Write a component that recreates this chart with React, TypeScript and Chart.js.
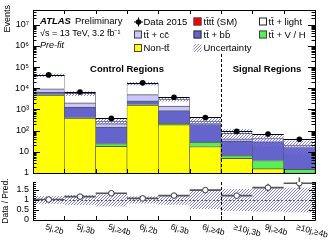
import React, { useEffect, useRef } from 'react';
import { Chart, registerables } from 'chart.js';
Chart.register(...registerables);

// ---------------- data ----------------
const categories = ['5j,2b', '5j,3b', '5j,≥4b', '6j,2b', '6j,3b', '6j,≥4b', '≥10j,3b', '9j,≥4b', '≥10j,≥4b'];
const nonTT = [4800, 390, 18, 1620, 192, 17.8, 4.9, 1.6, 0.6];
const ttVH = [150, 15, 6.5, 100, 30, 11, 1.7, 2.3, 0.9];
const ttbb = [1600, 855, 125, 860, 668, 163, 26, 25.4, 14.5];
const ttcc = [3000, 830, 64, 2460, 566, 38, 9, 3.3, 1.2];
const ttLight = [32450, 3670, 70, 11760, 1654, 52, 33.4, 10, 3.2];
const tttt = [0.2, 0.3, 0.4, 0.2, 0.3, 0.5, 0.6, 0.7, 0.8];
const dataCounts = [43000, 6739, 380, 18144, 3795, 421, 92, 70, 39];
const relUncertainty = [0.19, 0.25, 0.32, 0.18, 0.24, 0.45, 0.55, 0.58, 0.62];
const ratioErr = [0.005, 0.014, 0.07, 0.008, 0.02, 0.07, 0.13, 0.19, 0.29];
const logTickValues = [1, 10, 100, 1e3, 1e4, 1e5, 1e6, 1e7];
const logTickLabels = ['1', '10', '10²', '10³', '10⁴', '10⁵', '10⁶', '10⁷'];
const ratioTickValues = [0, 0.5, 1, 1.5];
const ratioTickLabels = ['0', '0.5', '1', '1.5'];
const legendLabels = ['Data 2015', 'tt\u0304tt\u0304 (SM)', 'tt\u0304 + light', 'tt\u0304 + cc\u0304', 'tt\u0304 + bb\u0304', 'tt\u0304 + V / H', 'Non-tt\u0304', 'Uncertainty'];

// ---------------- style ----------------
const FONT = '"Liberation Sans", Arial, Helvetica, sans-serif';
const fnt = (size: number, weight = 'normal', style = 'normal') => `${style} ${weight} ${size}px ${FONT}`;
const C_YELLOW = '#ffff00';
const C_GREEN = '#55f055';
const C_BB = '#6464cc';
const C_CC = '#c8c8ff';
const C_LIGHT = '#ffffff';
const C_TTTT = '#ff0000';
const C_HATCH = '#7474e4';
const C_EDGE = '#555555';

const pred = categories.map((_, i) => nonTT[i] + ttVH[i] + ttbb[i] + ttcc[i] + ttLight[i] + tttt[i]);
const ratio = dataCounts.map((d, i) => d / pred[i]);

function makeHatch(ctx: CanvasRenderingContext2D, color: string) {
  const c = document.createElement('canvas');
  c.width = 3; c.height = 3;
  const g = c.getContext('2d')!;
  g.strokeStyle = color; g.lineWidth = 0.9;
  g.beginPath();
  g.moveTo(0, 3); g.lineTo(3, 0);
  g.moveTo(-1, 1); g.lineTo(1, -1);
  g.moveTo(2, 4); g.lineTo(4, 2);
  g.stroke();
  return ctx.createPattern(c, 'repeat')!;
}

function halfBin(x: any) {
  return (x.getPixelForValue(1) - x.getPixelForValue(0)) / 2;
}

function fixAxis(s: any) {
  s.width = 33;
  s.paddingTop = 0;
  s.paddingBottom = 0;
  s.paddingLeft = 0;
  s.paddingRight = 0;
}

function makeMainPlugin(hatch: CanvasPattern) {
  return {
    id: 'mainDecor',
    afterDatasetsDraw(chart: any) {
      const { ctx, scales } = chart;
      const x = scales.x, y = scales.y;
      const half = halfBin(x);
      ctx.save();
      ctx.strokeStyle = '#000'; ctx.lineWidth = 1;
      dataCounts.forEach((v, i) => {
        const cx = x.getPixelForValue(i);
        const cy = Math.round(y.getPixelForValue(v)) + 0.5;
        ctx.beginPath(); ctx.moveTo(cx - half, cy); ctx.lineTo(cx + half, cy); ctx.stroke();
      });
      ctx.restore();
    },
    afterDraw(chart: any) {
      const { ctx, chartArea: a, scales } = chart;
      const x = scales.x, y = scales.y;
      const half = halfBin(x);
      ctx.save();
      ctx.strokeStyle = '#000'; ctx.lineWidth = 1;
      ctx.strokeRect(a.left + 0.5, a.top + 0.5, a.right - a.left, a.bottom - a.top);
      ctx.beginPath();
      for (let e = 0; e <= 7; e++) {
        for (let m = 1; m <= 9; m++) {
          const v = m * Math.pow(10, e);
          if (v > y.max) break;
          const py = Math.round(y.getPixelForValue(v)) + 0.5;
          const len = m === 1 ? 7 : 3.5;
          ctx.moveTo(a.left, py); ctx.lineTo(a.left + len, py);
          ctx.moveTo(a.right, py); ctx.lineTo(a.right - len, py);
        }
      }
      for (let i = 1; i < categories.length; i++) {
        const px = Math.round(x.getPixelForValue(i) - half) + 0.5;
        ctx.moveTo(px, a.bottom); ctx.lineTo(px, a.bottom - 4);
        ctx.moveTo(px, a.top); ctx.lineTo(px, a.top + 4);
      }
      ctx.stroke();
      // dashed separator
      const sx = Math.round((x.getPixelForValue(5) + x.getPixelForValue(6)) / 2) + 0.5;
      ctx.setLineDash([3, 2]);
      ctx.beginPath(); ctx.moveTo(sx, 54); ctx.lineTo(sx, a.bottom); ctx.stroke();
      ctx.setLineDash([]);

      // y title
      ctx.fillStyle = '#000';
      ctx.save();
      ctx.translate(8, a.top - 5);
      ctx.rotate(-Math.PI / 2);
      ctx.font = fnt(9);
      ctx.textAlign = 'right'; ctx.textBaseline = 'middle';
      ctx.fillText('Events', 0, 0);
      ctx.restore();

      // labels
      ctx.textAlign = 'left'; ctx.textBaseline = 'alphabetic';
      ctx.font = fnt(9.5, 'bold', 'italic');
      ctx.fillText('ATLAS', 40, 23.5);
      ctx.font = fnt(9.5);
      ctx.fillText('Preliminary', 75, 23.5);
      ctx.font = fnt(9);
      ctx.fillText('√s = 13 TeV, 3.2 fb⁻¹', 40, 35.5);
      ctx.font = fnt(9, 'normal', 'italic');
      ctx.fillText('Pre-fit', 40, 47.5);
      ctx.font = fnt(9.5, 'bold');
      ctx.textAlign = 'center';
      ctx.fillText('Control Regions', 127, 71.5);
      ctx.fillText('Signal Regions', 267, 71.5);

      // legend
      ctx.textAlign = 'left'; ctx.textBaseline = 'middle';
      ctx.font = fnt(9.5);
      const rows = [21.5, 34.5, 48];
      const boxCols = [134, 193.5, 259];
      const textCols = [143.5, 203.5, 268.5];
      const box = (col: number, row: number, fill: string | CanvasPattern, stroke: string | null) => {
        const bx = boxCols[col], by = rows[row] - 4;
        ctx.fillStyle = fill;
        ctx.fillRect(bx, by, 8, 8);
        if (stroke) { ctx.strokeStyle = stroke; ctx.lineWidth = 1; ctx.strokeRect(bx + 0.5, by + 0.5, 7, 7); }
      };
      // data marker
      ctx.strokeStyle = '#000'; ctx.lineWidth = 1;
      ctx.beginPath();
      ctx.moveTo(134, rows[0] + 0.5); ctx.lineTo(143, rows[0] + 0.5);
      ctx.moveTo(138.5, rows[0] - 4); ctx.lineTo(138.5, rows[0] + 5);
      ctx.stroke();
      ctx.fillStyle = '#000';
      ctx.beginPath(); ctx.arc(138.5, rows[0] + 0.5, 2.7, 0, Math.PI * 2); ctx.fill();
      box(1, 0, C_TTTT, '#444');
      box(2, 0, C_LIGHT, '#222');
      box(0, 1, C_CC, '#444');
      box(1, 1, C_BB, '#333');
      box(2, 1, C_GREEN, '#444');
      box(0, 2, C_YELLOW, '#444');
      box(1, 2, hatch, null);
      ctx.fillStyle = '#000';
      const tpos: [number, number][] = [[0, 0], [1, 0], [2, 0], [0, 1], [1, 1], [2, 1], [0, 2], [1, 2]];
      legendLabels.forEach((lab, k) => {
        const [c, r] = tpos[k];
        ctx.fillText(lab, textCols[c], rows[r] + 0.5);
      });
      ctx.restore();
    },
  };
}

function makeRatioPlugin() {
  return {
    id: 'ratioDecor',
    afterDatasetDraw(chart: any, args: any) {
      if (args.index !== 0) return;
      const { ctx, chartArea: a, scales } = chart;
      const x = scales.x, y = scales.y;
      const half = halfBin(x);
      ctx.save();
      const oy = Math.round(y.getPixelForValue(1)) + 0.5;
      ctx.strokeStyle = '#555'; ctx.lineWidth = 1; ctx.setLineDash([2, 2]);
      ctx.beginPath(); ctx.moveTo(a.left, oy); ctx.lineTo(a.right, oy); ctx.stroke();
      ctx.setLineDash([]);
      ctx.strokeStyle = '#555'; ctx.lineWidth = 1.6;
      ratio.forEach((r, i) => {
        const cx = x.getPixelForValue(i);
        const cy = y.getPixelForValue(r);
        ctx.beginPath(); ctx.moveTo(cx - half, cy); ctx.lineTo(cx + half, cy);
        ctx.moveTo(cx, y.getPixelForValue(r - ratioErr[i])); ctx.lineTo(cx, y.getPixelForValue(r + ratioErr[i]));
        ctx.stroke();
      });
      ctx.restore();
    },
    afterDraw(chart: any) {
      const { ctx, chartArea: a, scales } = chart;
      const x = scales.x, y = scales.y;
      const half = halfBin(x);
      ctx.save();
      ctx.strokeStyle = '#000'; ctx.lineWidth = 1;
      ctx.beginPath();
      ctx.moveTo(a.left + 0.5, a.top); ctx.lineTo(a.left + 0.5, a.bottom + 0.5); ctx.lineTo(a.right + 0.5, a.bottom + 0.5); ctx.lineTo(a.right + 0.5, a.top);
      ctx.stroke();
      ctx.beginPath();
      for (let k = 0; k <= 19; k++) {
        const v = k / 10;
        if (v > y.max) break;
        const py = Math.round(y.getPixelForValue(v)) + 0.5;
        const len = k % 5 === 0 ? 6 : 3;
        ctx.moveTo(a.left, py); ctx.lineTo(a.left + len, py);
        ctx.moveTo(a.right, py); ctx.lineTo(a.right - len, py);
      }
      for (let i = 1; i < categories.length; i++) {
        const px = Math.round(x.getPixelForValue(i) - half) + 0.5;
        ctx.moveTo(px, a.bottom); ctx.lineTo(px, a.bottom - 4);
      }
      ctx.stroke();
      const sx = Math.round((x.getPixelForValue(5) + x.getPixelForValue(6)) / 2) + 0.5;
      ctx.setLineDash([3, 2]);
      ctx.beginPath(); ctx.moveTo(sx, a.top); ctx.lineTo(sx, a.bottom); ctx.stroke();
      ctx.setLineDash([]);

      // x labels, rotated
      ctx.fillStyle = '#000';
      ctx.font = fnt(8.5);
      ctx.textAlign = 'left'; ctx.textBaseline = 'top';
      categories.forEach((lab, i) => {
        const cx = x.getPixelForValue(i) - 2;
        ctx.save();
        ctx.translate(cx, a.bottom + 3);
        ctx.rotate((15 * Math.PI) / 180);
        ctx.fillText(lab, 0, 0);
        ctx.restore();
      });
      // y title
      ctx.save();
      ctx.translate(6, (a.top + a.bottom) / 2);
      ctx.rotate(-Math.PI / 2);
      ctx.font = fnt(8.5);
      ctx.textAlign = 'center'; ctx.textBaseline = 'middle';
      ctx.fillText('Data / Pred.', 0, 0);
      ctx.restore();
      ctx.restore();
    },
  };
}

export default function App() {
  const mainRef = useRef<HTMLCanvasElement>(null);
  const ratioRef = useRef<HTMLCanvasElement>(null);

  useEffect(() => {
    const mc = mainRef.current!;
    const rc = ratioRef.current!;
    const hatchMain = makeHatch(mc.getContext('2d')!, C_HATCH);
    const hatchRatio = makeHatch(rc.getContext('2d')!, C_HATCH);

    const stackDs = (label: string, data: number[], color: string, border = C_EDGE) => ({
      type: 'bar' as const,
      label,
      data,
      backgroundColor: color,
      borderColor: border,
      borderWidth: { top: 1, left: 0.6, right: 0.6, bottom: 0 },
      borderSkipped: false,
      stack: 'mc',
      order: 3,
      barPercentage: 1,
      categoryPercentage: 1,
    });

    const main = new Chart(mc, {
      type: 'bar',
      data: {
        labels: categories,
        datasets: [
          stackDs('Non-tt', nonTT, C_YELLOW),
          stackDs('tt+V/H', ttVH, C_GREEN),
          stackDs('tt+bb', ttbb, C_BB),
          stackDs('tt+cc', ttcc, C_CC),
          stackDs('tt+light', ttLight, C_LIGHT),
          { ...stackDs('tttt', tttt, C_TTTT, C_TTTT), borderWidth: 0, inflateAmount: 0 },
          {
            type: 'bar',
            label: 'Uncertainty',
            data: pred.map((p, i) => [p * (1 - relUncertainty[i]), p * (1 + relUncertainty[i])]),
            backgroundColor: hatchMain,
            borderWidth: 0,
            inflateAmount: 0,
            stack: 'unc',
            grouped: false,
            order: 2,
            barPercentage: 1,
            categoryPercentage: 1,
          } as any,
          {
            type: 'line',
            label: 'Data 2015',
            data: dataCounts,
            showLine: false,
            stack: 'data',
            pointRadius: 2.8,
            pointBackgroundColor: '#000',
            pointBorderColor: '#000',
            pointBorderWidth: 0,
            order: 0,
          } as any,
        ],
      },
      options: {
        responsive: false,
        animation: false,
        events: [],
        layout: { padding: { left: 0, top: 10, right: 16, bottom: 1 } },
        plugins: { legend: { display: false }, tooltip: { enabled: false } },
        scales: {
          x: { type: 'category', display: false, stacked: true, offset: true, grid: { display: false } },
          y: {
            type: 'logarithmic',
            stacked: true,
            min: 1,
            max: 5e7,
            afterFit: fixAxis,
            afterBuildTicks: (s: any) => { s.ticks = logTickValues.map((v) => ({ value: v })); },
            grid: { display: false, drawTicks: false },
            border: { display: false },
            ticks: {
              autoSkip: false,
              padding: 4,
              color: '#000',
              font: { family: FONT, size: 9 },
              callback: (_v: any, i: number) => logTickLabels[i],
            },
          },
        },
      } as any,
      plugins: [makeMainPlugin(hatchMain)],
    });

    const ratioChart = new Chart(rc, {
      type: 'bar',
      data: {
        labels: categories,
        datasets: [
          {
            type: 'bar',
            label: 'Uncertainty',
            data: relUncertainty.map((u) => [1 - u, 1 + u]),
            backgroundColor: hatchRatio,
            borderWidth: 0,
            inflateAmount: 0,
            order: 2,
            barPercentage: 1,
            categoryPercentage: 1,
          } as any,
          {
            type: 'line',
            label: 'Data / Pred.',
            data: ratio,
            showLine: false,
            pointRadius: 2.8,
            pointBackgroundColor: '#fff',
            pointBorderColor: '#333',
            pointBorderWidth: 1,
            order: 0,
          } as any,
        ],
      },
      options: {
        responsive: false,
        animation: false,
        events: [],
        layout: { padding: { left: 0, top: 0, right: 16, bottom: 25 } },
        plugins: { legend: { display: false }, tooltip: { enabled: false } },
        scales: {
          x: { type: 'category', display: false, offset: true, grid: { display: false } },
          y: {
            type: 'linear',
            min: 0,
            max: 1.9,
            afterFit: fixAxis,
            afterBuildTicks: (s: any) => { s.ticks = ratioTickValues.map((v) => ({ value: v })); },
            grid: { display: false, drawTicks: false },
            border: { display: false },
            ticks: {
              autoSkip: false,
              padding: 4,
              color: '#000',
              font: { family: FONT, size: 9 },
              callback: (_v: any, i: number) => ratioTickLabels[i],
            },
          },
        },
      } as any,
      plugins: [makeRatioPlugin()],
    });

    return () => {
      main.destroy();
      ratioChart.destroy();
    };
  }, []);

  return (
    <div style={{ position: 'fixed', left: 0, top: 0, width: 331, height: 245, background: '#fff' }}>
      <canvas ref={mainRef} width={331} height={177} style={{ position: 'absolute', left: 0, top: 0, width: 331, height: 177 }} />
      <canvas ref={ratioRef} width={331} height={68} style={{ position: 'absolute', left: 0, top: 177, width: 331, height: 68 }} />
    </div>
  );
}
